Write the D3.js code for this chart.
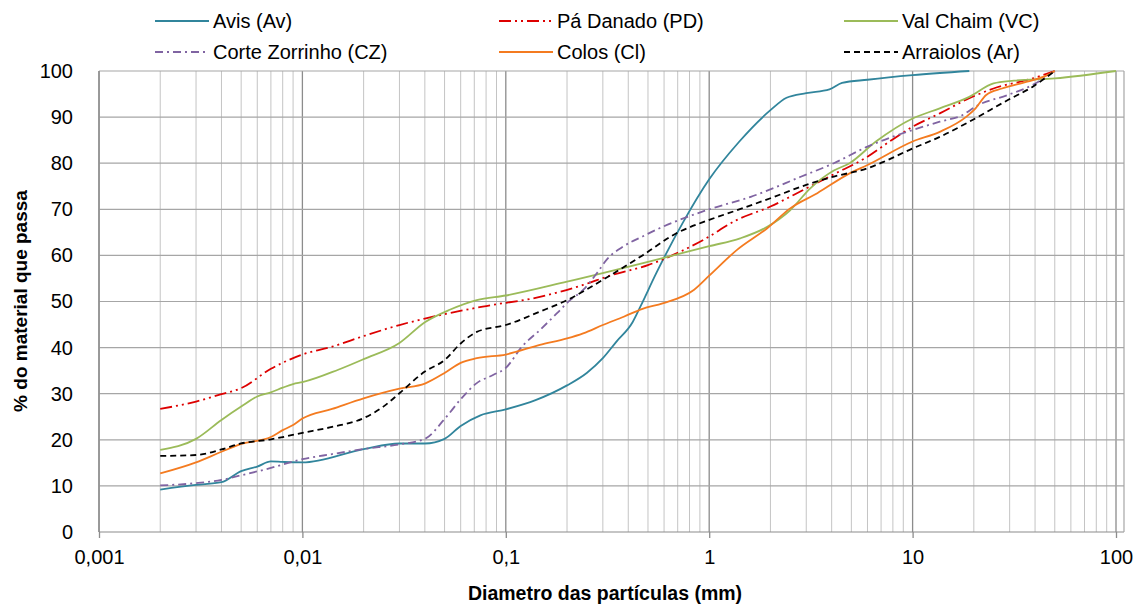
<!DOCTYPE html>
<html><head><meta charset="utf-8">
<script src="https://cdn.jsdelivr.net/npm/d3@7"></script>
<style>
html,body{margin:0;padding:0;background:#fff;}
svg{display:block;font-family:"Liberation Sans",Arial,sans-serif;}
</style></head>
<body><svg id="c" width="1140" height="607"></svg>
<script>
// ---- data (diameter mm, % passing) ----
const seriesNames = ["Avis (Av)","Pá Danado (PD)","Val Chaim (VC)","Corte Zorrinho (CZ)","Colos (Cl)","Arraiolos (Ar)"];
const avis = [[0.002,9.2],[0.003,10.2],[0.004,10.8],[0.005,13.2],[0.006,14.2],[0.007,15.3],[0.008,15.2],[0.01,15.1],[0.02,18.0],[0.03,19.2],[0.04,19.2],[0.05,20.2],[0.06,23],[0.075,25.3],[0.1,26.6],[0.14,28.6],[0.2,31.8],[0.25,34.5],[0.3,37.7],[0.35,41.3],[0.42,45.5],[0.46,49],[0.55,56.2],[0.74,67],[1,76.5],[1.4,84.6],[2,91.5],[2.4,94.2],[3,95.2],[3.9,96],[4.5,97.4],[6,98.1],[10,99.1],[19,100]];
const paDanado = [[0.002,26.7],[0.003,28.3],[0.004,29.9],[0.005,31.2],[0.007,35.4],[0.01,38.5],[0.014,40.2],[0.02,42.5],[0.03,44.9],[0.04,46.3],[0.077,48.9],[0.147,51],[0.24,53.6],[0.33,55.7],[0.5,57.9],[0.93,63.3],[1.37,67.7],[2,70.6],[2.9,74.2],[4.1,77.6],[6,81.4],[7.7,84.7],[10,87.9],[13.6,90.8],[19,94.1],[25,96.2],[39,98.4],[50,100]];
const valChaim = [[0.002,17.8],[0.003,20.2],[0.004,24.3],[0.005,27.2],[0.006,29.4],[0.007,30.3],[0.008,31.3],[0.009,32.1],[0.01,32.5],[0.015,35.2],[0.02,37.5],[0.03,41],[0.04,45.5],[0.053,48.2],[0.072,50.3],[0.1,51.3],[0.2,54.3],[0.5,58.6],[1,62],[1.42,63.7],[1.93,66.2],[2.5,69.8],[3.15,74.6],[4.1,78.4],[4.9,80],[6.6,84.7],[10,89.7],[13.6,91.9],[19,94.4],[25,97.3],[31.5,97.9],[50,98.4],[100,100]];
const corteZorrinho = [[0.002,10.1],[0.003,10.6],[0.004,11.3],[0.005,12.3],[0.007,13.9],[0.01,15.8],[0.014,16.9],[0.02,18],[0.03,19],[0.04,20.2],[0.05,24.5],[0.06,28.8],[0.072,32.3],[0.087,34.1],[0.1,35.6],[0.12,40.2],[0.147,43.8],[0.178,47.4],[0.207,50.3],[0.24,52.5],[0.28,56.1],[0.315,59.2],[0.38,62],[0.47,64.1],[0.57,65.9],[1,70],[1.6,72.7],[2.8,77],[4.1,80],[6,83.6],[10,87.2],[13.6,89],[17.7,90.5],[20.4,92.3],[29.4,94.8],[39,97],[50,100]];
const colos = [[0.002,12.7],[0.003,15.1],[0.004,17.4],[0.005,19.1],[0.007,20.6],[0.008,22.1],[0.009,23.2],[0.01,24.6],[0.014,26.7],[0.02,29],[0.03,31.1],[0.04,32.2],[0.05,34.5],[0.06,36.7],[0.072,37.7],[0.1,38.5],[0.147,40.6],[0.2,42],[0.24,43.1],[0.3,44.9],[0.38,46.7],[0.47,48.4],[0.59,49.6],[0.84,52.5],[1,55.6],[1.37,61.2],[1.93,65.9],[2.5,70.2],[3.4,73.5],[4.9,77.8],[6,79.6],[10,84.7],[13.6,86.8],[18.4,90.1],[20.4,91.9],[23,94.8],[27.5,96.2],[36.6,97.7],[46,99.1],[50,100]];
const arraiolos = [[0.002,16.5],[0.003,16.7],[0.004,17.9],[0.005,19.2],[0.007,20.1],[0.01,21.5],[0.014,22.8],[0.02,24.7],[0.025,27.2],[0.03,30.1],[0.04,34.8],[0.05,37.3],[0.06,40.9],[0.072,43.4],[0.1,44.9],[0.147,47.8],[0.2,50.3],[0.3,54.7],[0.47,60],[0.69,64.8],[1,67.7],[1.37,69.8],[2,72.4],[3,75.3],[4.1,77.1],[6,78.9],[7.2,80.3],[10,83.2],[13.6,85.7],[19,89],[29.4,93.7],[39,96.6],[50,100]];
const xTickValues = [0.001,0.01,0.1,1,10,100];
const xTickLabels = ["0,001","0,01","0,1","1","10","100"];
const yTickValues = [0,10,20,30,40,50,60,70,80,90,100];

const allSeries = [avis,paDanado,valChaim,corteZorrinho,colos,arraiolos];
const styles = [
  {color:"#31859C", dash:null},
  {color:"#DD0000", dash:"12,4,2,4,2,4"},
  {color:"#9BBB59", dash:null},
  {color:"#8064A2", dash:"8,4,2,4"},
  {color:"#F47B20", dash:null},
  {color:"#000000", dash:"6,4"}
];

const svg = d3.select("#c");
const L = 99, R = 1116, T = 71, B = 532, RB = 1124;
const x = d3.scaleLog().domain([0.001,100]).range([L,R]);
const y = d3.scaleLinear().domain([0,100]).range([B,T]);

// vertical grid
const vgrid = [];
for (let e=-3; e<2; e++) for (let m=1; m<10; m++) vgrid.push(m*Math.pow(10,e));
vgrid.push(100);
const isMajor = d => xTickValues.some(v=>Math.abs(v-d)/v<1e-9);
svg.append("g").selectAll("line").data(vgrid).join("line")
  .attr("x1",d=>x(d)).attr("x2",d=>x(d)).attr("y1",T).attr("y2",B)
  .attr("stroke",d=>isMajor(d)?"#8C8C8C":"#C4C4C4")
  .attr("stroke-width",d=>isMajor(d)?1.3:1);
// horizontal grid
svg.append("g").selectAll("line").data(yTickValues).join("line")
  .attr("x1",L).attr("x2",RB).attr("y1",d=>y(d)).attr("y2",d=>y(d))
  .attr("stroke",d=>d===0?"#8C8C8C":"#A6A6A6").attr("stroke-width",1.2);
svg.append("line").attr("x1",RB).attr("x2",RB).attr("y1",T).attr("y2",B).attr("stroke","#A6A6A6").attr("stroke-width",1.2);
svg.append("line").attr("x1",L).attr("x2",L).attr("y1",T).attr("y2",B).attr("stroke","#8C8C8C").attr("stroke-width",1.3);

// x axis ticks & labels
const xAxis = d3.axisBottom(x).tickValues(xTickValues).tickSize(6)
  .tickFormat((d,i)=>xTickLabels[i]);
const gx = svg.append("g").attr("transform",`translate(0,${B})`).call(xAxis);
gx.select(".domain").remove();
gx.selectAll(".tick line").attr("stroke","#8C8C8C").attr("stroke-width",1.3);
gx.selectAll(".tick text").attr("font-size",20).attr("fill","#000").attr("dy","1.15em")
  .attr("font-family","Liberation Sans, Arial, sans-serif");

// y axis labels
const yAxis = d3.axisLeft(y).tickValues(yTickValues).tickSize(0).tickPadding(26);
const gy = svg.append("g").attr("transform",`translate(${L},0)`).call(yAxis);
gy.select(".domain").remove();
gy.selectAll(".tick text").attr("font-size",20).attr("fill","#000")
  .attr("font-family","Liberation Sans, Arial, sans-serif");

// series
const line = d3.line().x(d=>x(d[0])).y(d=>y(d[1])).curve(d3.curveMonotoneX);
allSeries.forEach((s,i)=>{
  svg.append("path").datum(s).attr("d",line).attr("fill","none")
    .attr("stroke",styles[i].color).attr("stroke-width",1.8)
    .attr("stroke-dasharray",styles[i].dash);
});

// axis titles
svg.append("text").attr("x",605).attr("y",600).attr("text-anchor","middle")
  .attr("font-size",19.5).attr("font-weight","bold").text("Diametro das partículas (mm)");
svg.append("text").attr("transform","translate(27,301) rotate(-90)").attr("text-anchor","middle")
  .attr("font-size",19).attr("font-weight","bold").text("% do material que passa");

// legend
const legPos = [[155,21],[499,21],[844,21],[155,52],[499,52],[844,52]];
seriesNames.forEach((n,i)=>{
  const g = svg.append("g").attr("transform",`translate(${legPos[i][0]},${legPos[i][1]})`);
  g.append("line").attr("x1",0).attr("x2",54).attr("y1",0).attr("y2",0)
    .attr("stroke",styles[i].color).attr("stroke-width",1.8).attr("stroke-dasharray",styles[i].dash);
  g.append("text").attr("x",58).attr("y",0).attr("dy","0.35em").attr("font-size",20).text(n);
});
</script></body></html>
